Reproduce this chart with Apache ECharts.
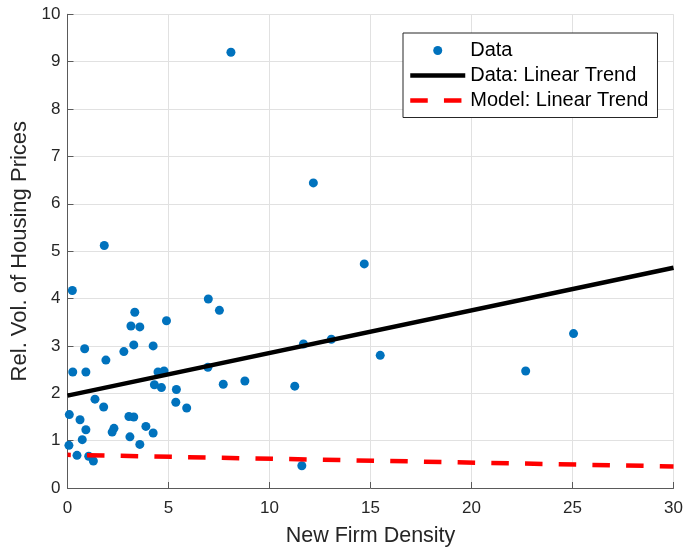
<!DOCTYPE html>
<html>
<head>
<meta charset="utf-8">
<script src="https://cdn.jsdelivr.net/npm/echarts@6/dist/echarts.min.js"></script>
<style>html,body{margin:0;padding:0;background:#fff;}#c{width:686px;height:552px;}</style>
</head>
<body>
<div id="c"></div>
<script>
// Scatter data (New Firm Density, Rel. Vol. of Housing Prices)
var dataX = [1.82, 0.24, 3.33, 3.14, 3.58, 4.90, 0.85, 3.28, 4.24, 2.79,
             1.90, 0.26, 0.91, 4.48, 4.78, 4.30, 4.65, 5.39, 5.36, 5.90,
             1.36, 1.79, 0.09, 0.62, 0.91, 0.73, 0.07, 0.47, 1.05, 1.28,
             3.04, 3.28, 2.30, 2.21, 3.09, 3.58, 3.88, 4.24, 6.97, 7.52,
             6.95, 7.71, 8.78, 8.09, 12.17, 14.69, 11.68, 13.06, 11.25, 15.48,
             22.68, 25.05, 11.60];
var dataY = [5.12, 4.17, 3.71, 3.42, 3.40, 3.53, 2.94, 3.02, 3.00, 2.88,
             2.70, 2.45, 2.45, 2.45, 2.47, 2.18, 2.12, 2.08, 1.81, 1.69,
             1.875, 1.71, 1.55, 1.44, 1.23, 1.02, 0.90, 0.69, 0.67, 0.57,
             1.51, 1.50, 1.26, 1.18, 1.08, 0.92, 1.30, 1.16, 3.99, 3.75,
             2.55, 2.19, 2.26, 9.20, 6.44, 4.73, 3.04, 3.14, 2.15, 2.80,
             2.47, 3.26, 0.47];
// Linear trend end points
var trendX = [0, 30];
var dataTrendY = [1.95, 4.65];
var modelTrendY = [0.70, 0.455];

var seriesNames = ['Data', 'Data: Linear Trend', 'Model: Linear Trend'];
var xLabel = 'New Firm Density';
var yLabel = 'Rel. Vol. of Housing Prices';

function zip(xs, ys) { return xs.map(function (x, i) { return [x, ys[i]]; }); }

var FONT = '"Liberation Sans", Arial, Helvetica, sans-serif';
var DASH = [17.5, 16.2];
var chart = echarts.init(document.getElementById('c'), null, { renderer: 'canvas' });
var axisCommon = {
  axisLine: { show: true, onZero: false, lineStyle: { color: '#5a5a5a', width: 1 } },
  axisTick: { show: true, inside: true, length: 6, lineStyle: { color: '#5a5a5a' } },
  splitLine: { show: true, lineStyle: { color: '#e1e1e1', width: 1 } },
  nameLocation: 'middle'
};
chart.setOption({
  animation: false,
  backgroundColor: '#fff',
  grid: { left: 67.5, right: 10.5, top: 14.3, bottom: 57.7, containLabel: false },
  xAxis: Object.assign({}, axisCommon, {
    type: 'value', min: 0, max: 30, interval: 5, name: xLabel, nameGap: 37,
    axisLabel: { color: '#262626', fontSize: 17, fontFamily: FONT, margin: 12 },
    nameTextStyle: { color: '#262626', fontSize: 21.5, fontFamily: FONT }
  }),
  yAxis: Object.assign({}, axisCommon, {
    type: 'value', min: 0, max: 10, interval: 1, name: yLabel, nameGap: 35,
    axisLabel: { color: '#262626', fontSize: 17, fontFamily: FONT, margin: 7 },
    nameTextStyle: { color: '#262626', fontSize: 22, fontFamily: FONT }
  }),
  legend: {
    orient: 'vertical', left: 403, top: 33,
    padding: [7.5, 9, 7, 5],
    itemWidth: 55, itemHeight: 20, itemGap: 5,
    backgroundColor: '#fff', borderColor: '#262626', borderWidth: 1, borderRadius: 0,
    textStyle: { color: '#000', fontSize: 20, fontFamily: FONT },
    data: [
      { name: seriesNames[0], icon: 'path://M0,0 M55,20 M23,10 a4.5,4.5 0 1,0 9,0 a4.5,4.5 0 1,0 -9,0 Z' },
      { name: seriesNames[1], itemStyle: { opacity: 0 }, lineStyle: { width: 4.5, color: '#000' } },
      { name: seriesNames[2], itemStyle: { opacity: 0 }, lineStyle: { width: 4.5, color: '#ff0000', type: DASH, dashOffset: 0 } }
    ]
  },
  series: [
    {
      name: seriesNames[0], type: 'scatter', data: zip(dataX, dataY),
      symbol: 'circle', symbolSize: 9, z: 2,
      itemStyle: { color: '#0072BD', opacity: 1 }
    },
    {
      name: seriesNames[1], type: 'line', data: zip(trendX, dataTrendY),
      symbol: 'none', z: 3, color: '#000',
      lineStyle: { color: '#000', width: 4.5, cap: 'butt' }
    },
    {
      name: seriesNames[2], type: 'line', data: zip(trendX, modelTrendY),
      symbol: 'none', z: 4, color: '#ff0000',
      lineStyle: { color: '#ff0000', width: 4.5, type: DASH, dashOffset: 14.2, cap: 'butt' }
    }
  ]
});
</script>
</body>
</html>
